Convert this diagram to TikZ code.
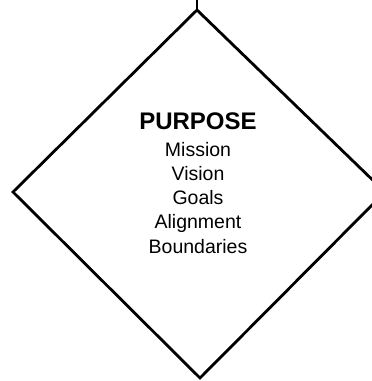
\documentclass[tikz,border=0pt]{standalone}
\usepackage{fontspec}
\setmainfont{Liberation Sans}
\begin{document}
\begin{tikzpicture}[x=1pt,y=1pt,
  edge/.style={line width=2.8pt,line join=miter},
  item/.style={anchor=base,inner sep=0pt,font=\fontsize{19.5}{22}\selectfont},
  headtext/.style={anchor=base,inner sep=0pt,font=\fontsize{24}{28}\selectfont\bfseries}]
\useasboundingbox (0,0) rectangle (372,381);
\clip (0,0) rectangle (372,381);
\coordinate (top) at (197,371);
\coordinate (right) at (385,189);
\coordinate (bottom) at (200,3);
\coordinate (left) at (13,189);
\coordinate (up) at (197,385);
\draw[edge] (top) -- (right) -- (bottom) -- (left) -- cycle;
\draw[edge] (top) -- (up);
\node[headtext] (h) at (198,251) {PURPOSE};
\node[item] (m) at (198,224) {Mission};
\node[item] (v) at (198,200) {Vision};
\node[item] (g) at (198,176) {Goals};
\node[item] (a) at (198,152) {Alignment};
\node[item] (b) at (198,127) {Boundaries};
\end{tikzpicture}
\end{document}
